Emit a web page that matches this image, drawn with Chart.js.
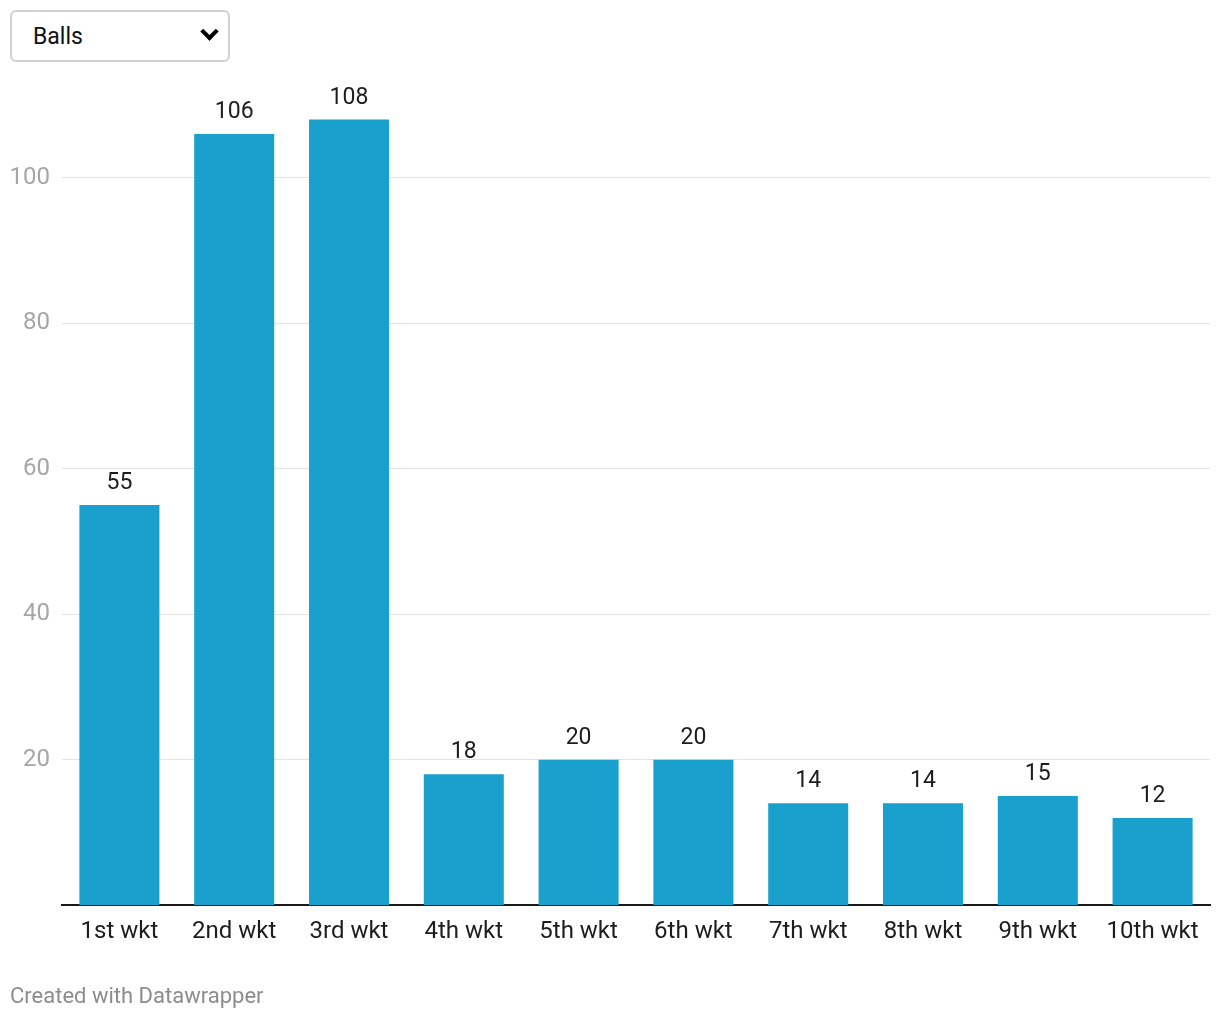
<!DOCTYPE html>
<html>
<head>
<meta charset="utf-8">
<script src="https://cdn.jsdelivr.net/npm/chart.js@4"></script>
<style>
  body { margin: 0; background: #fff; font-family: Roboto, sans-serif; }
  #wrap { position: relative; width: 1220px; height: 1020px; }
  #myChart { position: absolute; left: 0; top: 0; }
  .picker { position: absolute; left: 10px; top: 10px; width: 216px; height: 48px;
    border: 2px solid #d0d0d0; border-radius: 6px; background: #fff; z-index: 2; }
  .picker select { appearance: none; -webkit-appearance: none; border: none; background: transparent;
    width: 100%; height: 100%; padding: 0 0 0 21px; font: 23px Roboto, sans-serif; color: #111; outline: none; }
  .picker::after { content: ""; position: absolute; right: 12px; top: 13px; width: 9px; height: 9px;
    border-right: 4px solid #000; border-bottom: 4px solid #000; transform: rotate(45deg); pointer-events: none; }
  .credit { position: absolute; left: 10px; top: 983px; font: 22px Roboto, sans-serif; color: #8c8c8c; }
</style>
</head>
<body>
<div id="wrap">
  <div class="picker"><select><option>Balls</option></select></div>
  <canvas id="myChart" width="1220" height="1020"></canvas>
  <div class="credit">Created with Datawrapper</div>
</div>
<script>
// data
var wickets = ["1st wkt", "2nd wkt", "3rd wkt", "4th wkt", "5th wkt", "6th wkt", "7th wkt", "8th wkt", "9th wkt", "10th wkt"];
var balls = [55, 106, 108, 18, 20, 20, 14, 14, 15, 12];
var yTicks = [20, 40, 60, 80, 100];

// value labels above bars
var valueLabels = {
  id: "valueLabels",
  afterDatasetsDraw: function (chart) {
    var ctx = chart.ctx;
    var meta = chart.getDatasetMeta(0);
    ctx.save();
    ctx.font = "23px Roboto";
    ctx.fillStyle = "#1d1d1d";
    ctx.textAlign = "center";
    ctx.textBaseline = "alphabetic";
    meta.data.forEach(function (bar, i) {
      ctx.fillText(balls[i], bar.x, bar.y - 16);
    });
    ctx.restore();
  },
};

var ctx = document.getElementById("myChart").getContext("2d");
var myChart = new Chart(ctx, {
  type: "bar",
  data: {
    labels: wickets,
    datasets: [
      {
        data: balls,
        backgroundColor: "#1aa0cc",
        categoryPercentage: 1,
        barPercentage: 0.697,
      },
    ],
  },
  options: {
    responsive: false,
    animation: false,
    layout: {
      padding: { left: 10, right: 10, top: 105, bottom: 62 },
    },
    plugins: {
      legend: { display: false },
      tooltip: { enabled: false },
    },
    scales: {
      y: {
        min: 0,
        max: 110,
        afterBuildTicks: function (axis) {
          axis.ticks = yTicks.map(function (v) { return { value: v }; });
        },
        afterFit: function (axis) {
          axis.width = 52;
        },
        grid: {
          color: "#e3e3e3",
          lineWidth: 1,
          drawTicks: false,
        },
        border: { display: false },
        ticks: {
          color: "#a6a6a6",
          font: { family: "Roboto", size: 24 },
          padding: 12,
        },
      },
      x: {
        grid: { display: false, drawTicks: false },
        border: { display: true, color: "#1a1a1a", width: 2 },
        ticks: {
          color: "#1d1d1d",
          font: { family: "Roboto", size: 24 },
          padding: 12,
          maxRotation: 0,
        },
      },
    },
  },
  plugins: [valueLabels],
});
</script>
</body>
</html>
